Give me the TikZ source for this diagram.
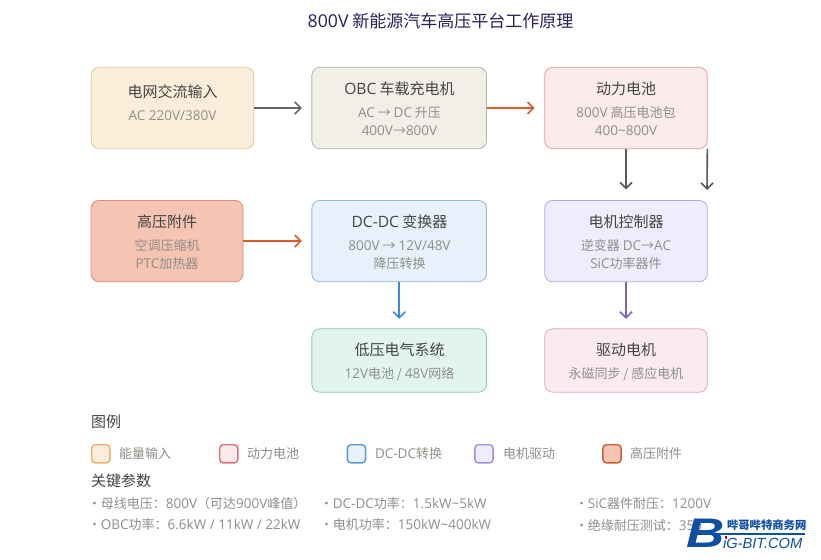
\documentclass[tikz,border=0pt]{standalone}
\usepackage{fontspec}
\setmainfont{Noto Sans CJK SC}
\newfontfamily\logofont{Liberation Sans}
\newfontfamily\ltnfont{Open Sans}[Scale=1.04]
\newcommand{\ltn}[1]{{\ltnfont #1}}
\newcommand{\hd}[1]{{\fontsize{11.25pt}{15pt}\selectfont\color{headcol} #1}}
\newcommand{\pitem}{•\hspace{-2.3pt}}
\usetikzlibrary{arrows.meta}

\definecolor{titlecol}{HTML}{26215C}
\definecolor{headcol}{HTML}{444441}
\definecolor{subcol}{HTML}{8F8E88}
\definecolor{logocol}{HTML}{0F4FA3}
\definecolor{amberfill}{HTML}{FAEEDA}
\definecolor{amberline}{HTML}{E5C79A}
\definecolor{amberkey}{HTML}{EDB06A}
\definecolor{grayfill}{HTML}{F1EFE8}
\definecolor{grayline}{HTML}{B4B2A9}
\definecolor{redfill}{HTML}{FCEBEB}
\definecolor{redline}{HTML}{E49A98}
\definecolor{redkey}{HTML}{E0707A}
\definecolor{coralfill}{HTML}{F5C4B3}
\definecolor{coralline}{HTML}{DA8F78}
\definecolor{coralkey}{HTML}{D85A30}
\definecolor{bluefill}{HTML}{E6F1FB}
\definecolor{blueline}{HTML}{8FB8E0}
\definecolor{bluekey}{HTML}{5B9BD5}
\definecolor{purplefill}{HTML}{EEEDFE}
\definecolor{purpleline}{HTML}{AFA9EC}
\definecolor{purplekey}{HTML}{9A8FE0}
\definecolor{tealfill}{HTML}{E1F5EE}
\definecolor{tealline}{HTML}{8CC7AF}
\definecolor{pinkfill}{HTML}{FBEAF0}
\definecolor{pinkline}{HTML}{E0A6BC}
\definecolor{bluearrow}{HTML}{378ADD}
\definecolor{purplearrow}{HTML}{7069B0}

\begin{document}
\begin{tikzpicture}[
		x=0.75pt, y=-0.75pt,
		every node/.style={inner sep=0pt, outer sep=0pt},
		box/.style={draw, rounded corners=6pt, line width=0.6pt},
		boxtext/.style={align=center, text=subcol, font=\fontsize{9.75pt}{13.7pt}\selectfont},
		swatch/.style={draw, rounded corners=2.6pt, line width=1.1pt, minimum width=13.6pt, minimum height=13.6pt},
		legendtext/.style={anchor=west, text=subcol, font=\fontsize{9.75pt}{12pt}\selectfont},
		heading/.style={anchor=west, text=headcol, font=\fontsize{11.25pt}{13pt}\selectfont},
		param/.style={anchor=west, text=subcol, font=\fontsize{9.75pt}{12pt}\selectfont},
		flow/.style={-{Straight Barb[length=4.5pt, width=9pt, line width=1.2pt]}, line width=1.2pt, shorten >=7.5pt}
		]
		\useasboundingbox (0,0) rectangle (821,560);
		\fill[white] (0,0) rectangle (821,560);

		\node[text=titlecol, font=\fontsize{12.75pt}{15pt}\selectfont] (title) at (440.5,21) {\ltn{800V} 新能源汽车高压平台工作原理};

		% boxes
		\node[box, draw=amberline, fill=amberfill, minimum width=122pt, minimum height=61pt] (input) at (172.5,108) {};
		\node[box, draw=grayline, fill=grayfill, minimum width=131pt, minimum height=61pt] (obc) at (399.2,108) {};
		\node[box, draw=redline, fill=redfill, minimum width=122pt, minimum height=61pt] (battery) at (626,108) {};
		\node[box, draw=coralline, fill=coralfill, minimum width=114pt, minimum height=61pt] (hvload) at (167,241.1) {};
		\node[box, draw=blueline, fill=bluefill, minimum width=131pt, minimum height=61pt] (dcdc) at (399.2,241.1) {};
		\node[box, draw=purpleline, fill=purplefill, minimum width=122pt, minimum height=61pt] (inverter) at (626,241.1) {};
		\node[box, draw=tealline, fill=tealfill, minimum width=131pt, minimum height=47.5pt] (lowvolt) at (399.2,360.5) {};
		\node[box, draw=pinkline, fill=pinkfill, minimum width=122pt, minimum height=47.5pt] (motor) at (626,360.5) {};

		% box texts
		\node[boxtext] (inputtext) at (172.5,102.5) {\hd{电网交流输入}\\[3.6pt]\ltn{AC 220V/380V}};
		\node[boxtext] (obctext) at (399.5,109) {\hd{\ltn{OBC} 车载充电机}\\[3.6pt]\ltn{AC} → \ltn{DC} 升压\\\ltn{400V}→\ltn{800V}};
		\node[boxtext] (batterytext) at (626,109) {\hd{动力电池}\\[3.6pt]\ltn{800V} 高压电池包\\\ltn{400\textasciitilde 800V}};
		\node[boxtext] (hvloadtext) at (167,242) {\hd{高压附件}\\[3.6pt]空调压缩机\\\ltn{PTC}加热器};
		\node[boxtext] (dcdctext) at (399.5,242) {\hd{\ltn{DC-DC} 变换器}\\[3.6pt]\ltn{800V} → \ltn{12V/48V}\\降压转换};
		\node[boxtext] (invertertext) at (626,242) {\hd{电机控制器}\\[3.6pt]逆变器 \ltn{DC}→\ltn{AC}\\\ltn{SiC}功率器件};
		\node[boxtext] (lowvolttext) at (399.5,362) {\hd{低压电气系统}\\[3.6pt]\ltn{12V}电池 / \ltn{48V}网络};
		\node[boxtext] (motortext) at (626,362) {\hd{驱动电机}\\[3.6pt]永磁同步 / 感应电机};

		% connectors
		\coordinate (batteryout) at (707,190);
		\draw[flow, draw=black!60] (input) -- (obc);
		\draw[flow, draw=coralkey] (obc) -- (battery);
		\draw[flow, draw=black!65, shorten >=8.2pt] (battery) -- (inverter);
		\draw[flow, draw=black!65, shorten >=0pt] (battery.south east) -- (batteryout);
		\draw[flow, draw=coralkey] (hvload) -- (dcdc);
		\draw[flow, draw=bluearrow] (dcdc) -- (lowvolt);
		\draw[flow, draw=purplearrow] (inverter) -- (motor);

		% legend
		\node[heading] (legendhead) at (91,422) {图例};
		\node[swatch, draw=amberkey, fill=amberfill] (swenergy) at (100.8,453.8) {};
		\node[legendtext] (lbenergy) at (119,454) {能量输入};
		\node[swatch, draw=redkey, fill=redfill] (swbattery) at (228.8,453.8) {};
		\node[legendtext] (lbbattery) at (247,454) {动力电池};
		\node[swatch, draw=bluekey, fill=bluefill] (swdcdc) at (356.5,453.8) {};
		\node[legendtext] (lbdcdc) at (375,454) {\ltn{DC-DC}转换};
		\node[swatch, draw=purplekey, fill=purplefill] (swmotor) at (484,453.8) {};
		\node[legendtext] (lbmotor) at (503,454) {电机驱动};
		\node[swatch, draw=coralkey, fill=coralfill] (swhvload) at (612,453.8) {};
		\node[legendtext] (lbhvload) at (630,454) {高压附件};

		% parameters
		\node[heading] (paramhead) at (91,481) {关键参数};
		\node[param] (pbus) at (88,504) {\pitem{} 母线电压^^^^ff1a\ltn{800V}^^^^ff08可达\ltn{900V}峰值^^^^ff09};
		\node[param] (pobc) at (88,525) {\pitem{} \ltn{OBC}功率^^^^ff1a\ltn{6.6kW / 11kW / 22kW}};
		\node[param] (pdcdc) at (320,504) {\pitem{} \ltn{DC-DC}功率^^^^ff1a\ltn{1.5kW\textasciitilde 5kW}};
		\node[param] (pmotor) at (320,525) {\pitem{} 电机功率^^^^ff1a\ltn{150kW\textasciitilde 400kW}};
		\node[param] (psic) at (575,504) {\pitem{} \ltn{SiC}器件耐压^^^^ff1a\ltn{1200V}};
		\node[param] (pinsul) at (575,525) {\pitem{} 绝缘耐压测试^^^^ff1a\ltn{350}};

		% logo
		\node[text=logocol, font=\logofont\bfseries\itshape\fontsize{31pt}{31pt}\selectfont] (logob) at (706,533.5) {\scalebox{1.28}[1]{B}};
		\node[anchor=west, text=logocol, font=\bfseries\fontsize{8.5pt}{10pt}\selectfont] (logocn) at (727,525) {哔哥哔特商务网};
		\fill[logocol] (690,532.8) rectangle (805,535);
		\fill[red!75!black] (724.5,535.5) rectangle (727,538.5);
		\node[anchor=west, text=logocol, font=\logofont\itshape\fontsize{11pt}{12pt}\selectfont] (logoen) at (723,543) {iG-BIT.COM};
	\end{tikzpicture}
\end{document}
